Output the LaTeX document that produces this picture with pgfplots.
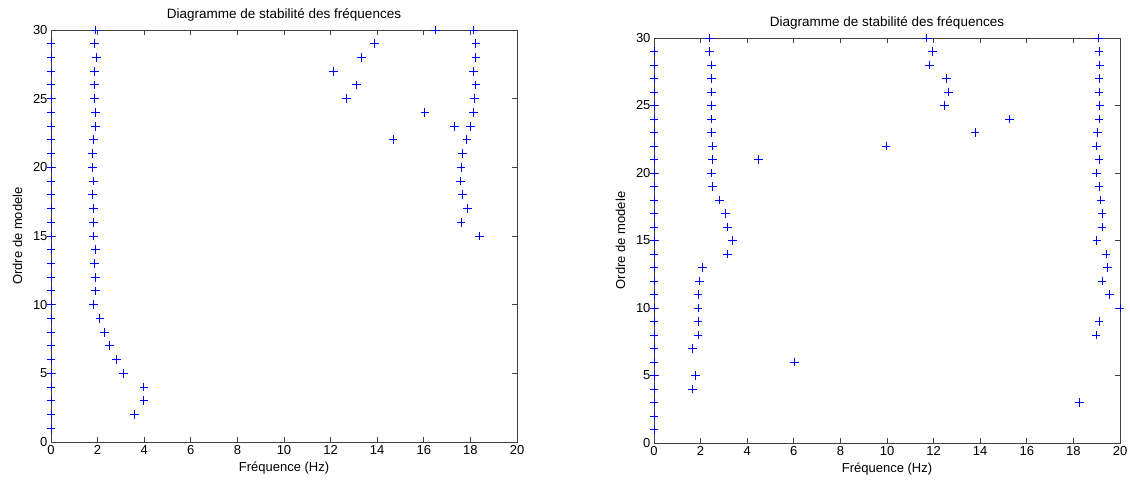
\documentclass[border=0pt]{standalone}
\usepackage{fontspec}
\setmainfont{Liberation Sans}
\usepackage{pgfplots}
\pgfplotsset{compat=1.18}
\definecolor{mblue}{RGB}{0,0,255}
\pgfplotsset{
  stab/.style={
    scale only axis, width=466pt,
    xmin=0, xmax=20, ymin=0, ymax=30,
    xtick={0,2,...,20}, ytick={0,5,...,30},
    tick align=inside, major tick length=5pt,
    axis line style={black!75, line width=0.8pt},
    every tick/.style={black!75, line width=0.8pt},
    tick label style={font=\fontsize{13}{15}\selectfont},
    label style={font=\fontsize{13}{15}\selectfont},
    title style={font=\fontsize{13.5}{15}\selectfont, yshift=-1pt},
    /pgf/number format/assume math mode=true,
    title={Diagramme de stabilité des fréquences},
    xlabel={Fréquence (Hz)}, ylabel={Ordre de modele},
    ylabel style={yshift=4pt},
    clip=false,
  },
  pts/.style={only marks, mark=+, mark size=4.4pt, color=mblue,
    mark options={solid, draw=mblue, line width=1pt}},
}
\begin{document}
\begin{tikzpicture}
\fill[white] (0pt,0pt) rectangle (1130pt,-488pt);
\useasboundingbox (0pt,0pt) rectangle (1130pt,-488pt);
\begin{axis}[stab, height=412pt, at={(51pt,-442pt)}, anchor=south west]
\addplot[pts] coordinates {
(0,1)(0,2)(0,3)(0,4)(0,5)(0,6)(0,7)(0,8)(0,9)(0,10)(0,11)(0,12)(0,13)(0,14)(0,15)
(0,16)(0,17)(0,18)(0,19)(0,20)(0,21)(0,22)(0,23)(0,24)(0,25)(0,26)(0,27)(0,28)(0,29)
(1.93,30)(1.86,29)(1.96,28)(1.86,27)(1.86,26)(1.86,25)(1.90,24)(1.90,23)(1.81,22)(1.77,21)
(1.77,20)(1.81,19)(1.77,18)(1.81,17)(1.81,16)(1.81,15)(1.90,14)(1.86,13)(1.90,12)(1.90,11)
(1.81,10)(2.10,9)(2.29,8)(2.50,7)(2.80,6)(3.11,5)(3.99,4)(3.99,3)(3.59,2)
(16.50,30)(18.13,30)(13.90,29)(18.24,29)(13.33,28)(18.24,28)(12.12,27)(18.13,27)(13.10,26)(18.24,26)
(12.68,25)(18.17,25)(16.05,24)(18.13,24)(17.33,23)(18.00,23)(14.68,22)(17.85,22)(17.67,21)(17.60,20)
(17.56,19)(17.66,18)(17.88,17)(17.60,16)(18.40,15)
};
\end{axis}
\begin{axis}[stab, height=405pt, at={(654pt,-443pt)}, anchor=south west]
\addplot[pts] coordinates {
(0,1)(0,2)(0,3)(0,4)(0,5)(0,6)(0,7)(0,8)(0,9)(0,10)(0,11)(0,12)(0,13)(0,14)(0,15)
(0,16)(0,17)(0,18)(0,19)(0,20)(0,21)(0,22)(0,23)(0,24)(0,25)(0,26)(0,27)(0,28)(0,29)
(2.39,30)(2.37,29)(2.47,28)(2.47,27)(2.47,26)(2.47,25)(2.47,24)(2.47,23)(2.51,22)(2.51,21)
(4.47,21)(2.47,20)(2.51,19)(2.80,18)(3.08,17)(3.15,16)(3.37,15)(3.15,14)(2.08,13)(1.94,12)
(1.89,11)(1.89,10)(1.89,9)(1.89,8)(1.65,7)(6.02,6)(1.79,5)(1.65,4)
(11.71,30)(19.07,30)(11.94,29)(19.10,29)(11.84,28)(19.14,28)(12.56,27)(19.10,27)(12.63,26)(19.10,26)
(12.46,25)(19.14,25)(15.27,24)(19.10,24)(13.78,23)(19.05,23)(9.96,22)(19.00,22)(19.10,21)(19.00,20)
(19.10,19)(19.18,18)(19.23,17)(19.23,16)(19.01,15)(19.40,14)(19.48,13)(19.23,12)(19.54,11)(20,10)
(19.10,9)(18.97,8)(18.25,3)
};
\end{axis}
\end{tikzpicture}
\end{document}
